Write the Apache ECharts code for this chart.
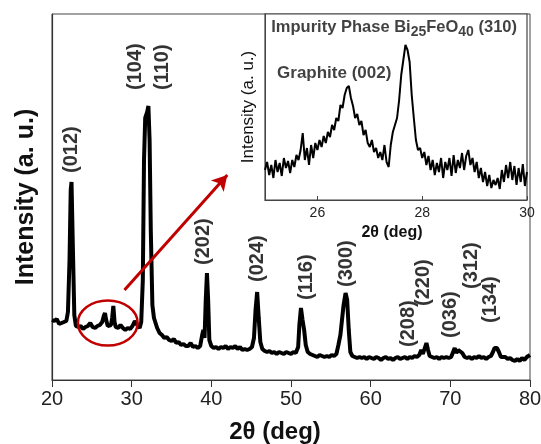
<!DOCTYPE html>
<html>
<head>
<meta charset="utf-8">
<script src="https://cdn.jsdelivr.net/npm/echarts@6/dist/echarts.min.js"></script>
<style>html,body{margin:0;padding:0;background:#fff;}#c{width:541px;height:444px;}</style>
</head>
<body>
<div id="c"></div>
<script>
// ---------- data (2θ in degrees, intensity in arbitrary units) ----------
const mainPattern = [
[20.0,60],[20.3,59],[20.6,61],[20.9,56],[21.2,57],[21.5,58],[21.8,59],[22.0,68],[22.2,120],[22.35,190],[22.45,198],[22.6,140],[22.8,65],
[23.0,54],[23.3,53],[23.6,54],[23.9,51],[24.2,53],[24.5,54],[24.8,57],[25.1,53],[25.4,52],[25.7,54],[26.0,55],[26.3,58],[26.5,64],[26.65,67],
[26.8,60],[27.0,54],[27.2,53],[27.4,55],[27.55,62],[27.7,74],[27.85,58],[28.0,53],[28.3,52],[28.6,55],[28.9,52],[29.2,50],[29.5,52],[29.8,51],
[30.1,54],[30.4,59],[30.7,55],[31.0,52],[31.2,58],[31.4,100],[31.55,220],[31.7,262],[31.85,264],[31.95,268],[32.1,274],[32.25,240],[32.4,150],
[32.6,75],[32.8,62],[33.0,64],[33.2,52],[33.5,47],[33.8,45],[34.1,42],[34.4,43],[34.7,40],[35.0,39],[35.3,41],[35.6,37],[35.9,38],[36.2,35],
[36.5,36],[36.8,34],[37.1,34],[37.4,37],[37.7,33],[38.0,34],[38.3,32],[38.6,34],[38.85,45],[39.0,50],[39.15,42],[39.3,80],[39.45,107],[39.6,80],
[39.75,40],[40.0,34],[40.3,32],[40.6,33],[40.9,31],[41.2,33],[41.5,32],[41.8,34],[42.1,31],[42.4,33],[42.7,32],[43.0,34],[43.3,31],[43.6,33],
[43.9,30],[44.2,31],[44.5,30],[44.8,31],[45.1,33],[45.35,42],[45.55,70],[45.75,88],[45.95,62],[46.15,38],[46.4,31],[46.7,29],[47.0,28],[47.3,29],
[47.6,27],[47.9,28],[48.2,26],[48.5,28],[48.8,27],[49.1,26],[49.4,28],[49.7,27],[50.0,26],[50.3,28],[50.6,27],[50.9,33],[51.05,55],[51.25,72],
[51.45,60],[51.65,50],[51.85,35],[52.1,28],[52.4,26],[52.7,25],[53.0,24],[53.3,23],[53.6,25],[53.9,24],[54.2,23],[54.5,24],[54.8,23],[55.1,25],
[55.4,24],[55.7,26],[55.95,35],[56.2,45],[56.4,47],[56.6,75],[56.85,87],[57.05,80],[57.25,50],[57.45,28],[57.7,24],[58.0,23],[58.3,22],[58.6,23],
[58.9,22],[59.2,23],[59.5,21],[59.8,23],[60.1,22],[60.4,21],[60.7,23],[61.0,22],[61.3,20],[61.6,22],[61.9,23],[62.2,21],[62.5,22],[62.8,20],
[63.1,22],[63.4,23],[63.7,21],[64.0,22],[64.3,23],[64.6,21],[64.9,23],[65.2,22],[65.5,24],[65.8,23],[66.1,25],[66.35,30],[66.55,26],[66.8,28],
[67.0,37],[67.2,30],[67.4,24],[67.7,23],[68.0,22],[68.3,23],[68.6,21],[68.9,23],[69.2,22],[69.5,23],[69.8,22],[70.1,23],[70.35,25],[70.55,32],
[70.75,27],[71.0,30],[71.25,31],[71.5,27],[71.8,23],[72.1,22],[72.4,23],[72.7,21],[73.0,23],[73.3,22],[73.6,24],[73.9,22],[74.2,23],[74.5,21],
[74.8,23],[75.1,24],[75.35,28],[75.55,32],[75.85,32],[76.1,28],[76.35,23],[76.6,22],[76.9,23],[77.2,21],[77.5,22],[77.8,20],[78.1,19],[78.4,21],
[78.7,19],[79.0,22],[79.3,20],[79.6,23],[79.8,21],[80.0,25]
];

// inset: 2θ from 25.00 to 30.00 in 0.04° steps
const insetTheta = [25.00,25.04,25.08,25.12,25.16,25.20,25.24,25.28,25.32,25.36,25.40,25.44,25.48,25.52,25.56,25.60,25.64,25.68,25.72,25.76,
25.80,25.84,25.88,25.92,25.96,26.00,26.04,26.08,26.12,26.16,26.20,26.24,26.28,26.32,26.36,26.40,26.44,26.48,26.52,26.56,26.60,26.64,26.68,
26.72,26.76,26.80,26.84,26.88,26.92,26.96,27.00,27.04,27.08,27.12,27.16,27.20,27.24,27.28,27.32,27.36,27.40,27.44,27.48,27.52,27.56,27.60,
27.64,27.68,27.72,27.76,27.80,27.84,27.88,27.92,27.96,28.00,28.04,28.08,28.12,28.16,28.20,28.24,28.28,28.32,28.36,28.40,28.44,28.48,28.52,
28.56,28.60,28.64,28.68,28.72,28.76,28.80,28.84,28.88,28.92,28.96,29.00,29.04,29.08,29.12,29.16,29.20,29.24,29.28,29.32,29.36,29.40,29.44,
29.48,29.52,29.56,29.60,29.64,29.68,29.72,29.76,29.80,29.84,29.88,29.92,29.96,30.00];
const insetIntensity = [30,38,25,35,22,40,28,37,24,42,32,39,27,40,33,45,40,50,67,40,
52,35,55,42,57,50,60,53,64,57,68,63,75,70,82,79,95,92,105,112,114,102,94,
82,86,75,79,65,70,57,53,60,48,52,42,48,40,55,38,33,55,68,75,82,100,125,
140,155,150,138,105,82,60,50,52,42,48,35,44,30,40,25,37,28,42,22,38,30,42,
24,45,27,40,32,47,30,44,50,35,42,28,38,22,32,18,28,14,25,12,20,15,22,
11,30,18,35,22,38,20,34,15,32,18,36,14,28];

// peak indexing labels: Miller indices, 2θ position, intensity level where the label starts
const hklLabels = ['(012)','(104)','(110)','(202)','(024)','(116)','(300)','(208)','(220)','(036)','(312)','(134)'];
const hklTheta  = [22.5, 30.5, 33.9, 39.0, 45.75, 51.9, 57.0, 64.75, 66.6, 70.0, 72.6, 75.1];
const hklLevel  = [207, 290, 290, 115, 98, 80, 93, 33, 74, 42, 91, 57];

const xTicksMain = [20,30,40,50,60,70,80];
const xTicksInset = [26,28,30];

// annotation (in data units): ellipse around the weak peaks, arrow to the inset
const ellipseCenter = [27.0, 57];
const ellipseRadius = [3.75, 22.5];
const arrowFrom = [29.1, 90];
const arrowTo = [42.0, 205];

const insetNotes = [
  {theta: 25.12, level: 173, text: '{b|Impurity Phase Bi}{s|25}{b|FeO}{s|40}{b| (310)}'},
  {theta: 25.23, level: 127, text: '{g|Graphite (002)}'}
];

// ---------- chart ----------
const FONT = 'Liberation Sans, Arial, sans-serif';
const RED = '#c00000';
const chart = echarts.init(document.getElementById('c'), null, {renderer: 'canvas'});

const insetData = insetTheta.map((t, i) => [t, insetIntensity[i]]);

chart.setOption({
  backgroundColor: '#fff',
  animation: false,
  grid: [
    {left: 52, top: 14, right: 11, bottom: 64, show: true, borderColor: '#444', borderWidth: 1, backgroundColor: 'transparent',
     containLabel: false, outerBoundsMode: 'none'},
    {left: 265, top: 14, right: 14, bottom: 244, show: true, borderColor: '#444', borderWidth: 1.2, backgroundColor: '#fff',
     containLabel: false, outerBoundsMode: 'none'}
  ],
  xAxis: [
    {
      gridIndex: 0, type: 'value', min: 20, max: 80, interval: 10,
      axisLine: {show: true, lineStyle: {color: '#333', width: 1.2}},
      axisTick: {show: true, inside: false, length: 7, lineStyle: {color: '#333'}},
      axisLabel: {fontSize: 20, color: '#222', fontFamily: FONT, margin: 9},
      splitLine: {show: false},
      name: '2θ (deg)', nameLocation: 'middle', nameGap: 40,
      nameTextStyle: {fontSize: 24, fontWeight: 'bold', color: '#111', fontFamily: FONT, padding: [0, 32, 0, 0]}
    },
    {
      gridIndex: 1, type: 'value', min: 25, max: 30,
      axisLine: {show: true, lineStyle: {color: '#444'}},
      axisTick: {show: true, inside: true, length: 4, customValues: xTicksInset, lineStyle: {color: '#444'}},
      axisLabel: {fontSize: 14, color: '#222', fontFamily: FONT, margin: 6, customValues: xTicksInset},
      splitLine: {show: false},
      name: '2θ (deg)', nameLocation: 'middle', nameGap: 25,
      nameTextStyle: {fontSize: 16, fontWeight: 'bold', color: '#111', fontFamily: FONT, padding: [0, 8, 0, 0]}
    }
  ],
  yAxis: [
    {
      gridIndex: 0, type: 'value', min: 0, max: 366,
      axisLine: {show: true, lineStyle: {color: '#333', width: 1.2}},
      axisTick: {show: false}, axisLabel: {show: false}, splitLine: {show: false},
      name: 'Intensity (a. u.)', nameLocation: 'middle', nameGap: 13,
      nameTextStyle: {fontSize: 25, fontWeight: 'bold', color: '#111', fontFamily: FONT}
    },
    {
      gridIndex: 1, type: 'value', min: 0, max: 186,
      axisLine: {show: true, lineStyle: {color: '#444'}},
      axisTick: {show: false}, axisLabel: {show: false}, splitLine: {show: false},
      name: 'Intensity (a. u.)', nameLocation: 'middle', nameGap: 8,
      nameTextStyle: {fontSize: 17, color: '#111', fontFamily: FONT}
    }
  ],
  series: [
    {
      type: 'line', xAxisIndex: 0, yAxisIndex: 0, data: mainPattern,
      showSymbol: false, smooth: false, lineStyle: {color: '#000', width: 4}, z: 3,
      markLine: {
        silent: true, symbol: ['none', 'arrow'], symbolSize: [13, 15],
        label: {show: false},
        lineStyle: {color: RED, width: 3, type: 'solid'},
        data: [[{coord: arrowFrom}, {coord: arrowTo}]]
      }
    },
    {
      type: 'custom', xAxisIndex: 0, yAxisIndex: 0, z: 4,
      data: [[ellipseCenter[0], ellipseCenter[1], ellipseRadius[0], ellipseRadius[1]]],
      renderItem: function (params, api) {
        const c = api.coord([api.value(0), api.value(1)]);
        const s = api.size([api.value(2), api.value(3)]);
        return {type: 'ellipse', shape: {cx: c[0], cy: c[1], rx: s[0], ry: s[1]},
                style: {fill: 'none', stroke: RED, lineWidth: 2.5}};
      }
    },
    {
      type: 'scatter', xAxisIndex: 0, yAxisIndex: 0, symbolSize: 0, z: 5,
      data: hklLabels.map((n, i) => ({name: n, value: [hklTheta[i], hklLevel[i]]})),
      label: {show: true, formatter: '{b}', position: 'inside', rotate: 90, align: 'left', verticalAlign: 'middle',
              fontSize: 20, fontWeight: 'bold', color: '#000', fontFamily: FONT}
    },
    {
      type: 'line', xAxisIndex: 1, yAxisIndex: 1, data: insetData,
      showSymbol: false, lineStyle: {color: '#000', width: 2}, z: 6
    },
    {
      type: 'scatter', xAxisIndex: 1, yAxisIndex: 1, symbolSize: 0, z: 7,
      data: insetNotes.map(n => ({name: n.text, value: [n.theta, n.level]})),
      label: {show: true, formatter: '{b}', position: 'inside', align: 'left', verticalAlign: 'middle',
        rich: {
          b: {fontSize: 16.5, fontWeight: 'bold', color: '#111', fontFamily: FONT},
          g: {fontSize: 17, fontWeight: 'bold', color: '#111', fontFamily: FONT},
          s: {fontSize: 14, fontWeight: 'bold', color: '#111', fontFamily: FONT, padding: [10, 0, 0, 0]}
        }
      }
    }
  ]
});
</script>
</body>
</html>
